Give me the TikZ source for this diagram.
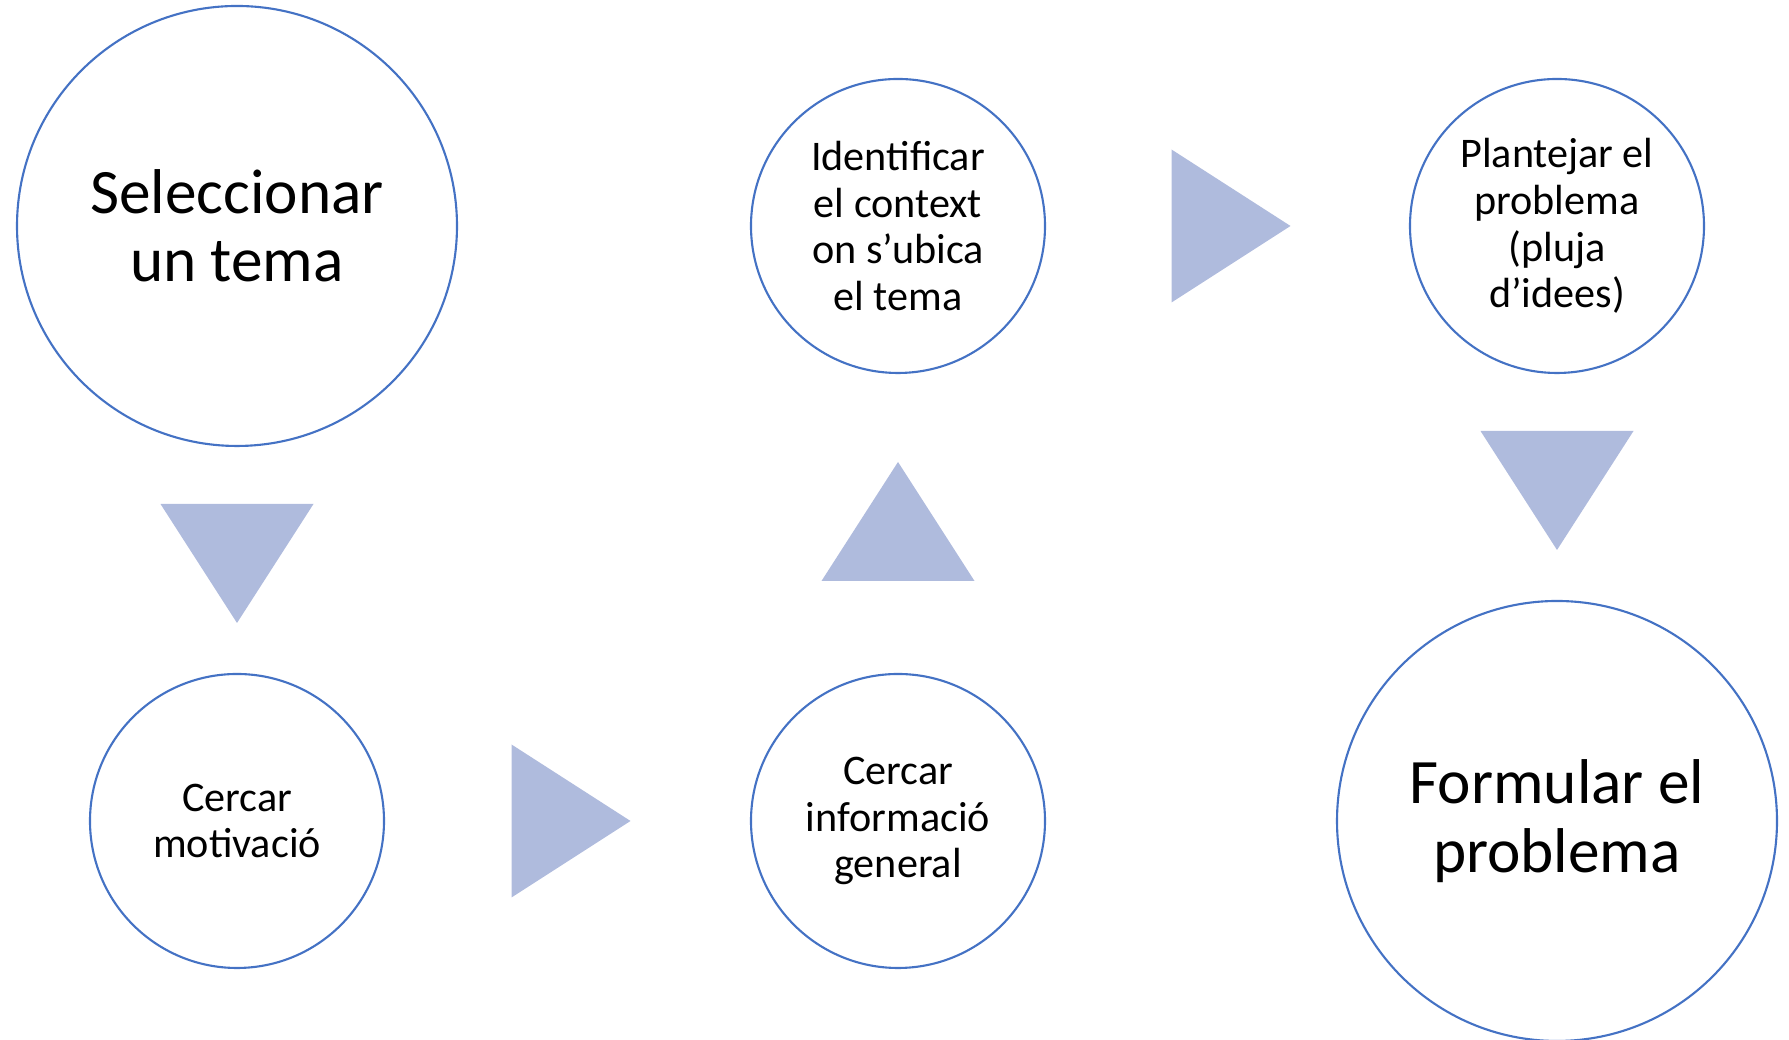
\documentclass[tikz,border=0pt]{standalone}
\usepackage{fontspec}
\setmainfont{Carlito}
\usetikzlibrary{calc}
\usetikzlibrary{positioning}

\definecolor{ringblue}{RGB}{68,114,196}
\definecolor{trifill}{RGB}{175,187,221}

\tikzset{
    bigstep/.style={circle,draw=ringblue,line width=0.6pt,minimum size=4.40cm,inner sep=0pt,outer sep=0pt,align=center,font=\fontsize{18}{19.5}\selectfont},
    smallstep/.style={circle,draw=ringblue,line width=0.6pt,minimum size=2.94cm,inner sep=0pt,outer sep=0pt,align=center,font=\fontsize{12}{13.3}\selectfont},
    flowtri/.style={fill=trifill}
}

\begin{document}
\begin{tikzpicture}

            %\draw [help lines] (0,0) grid (18,10);
            \useasboundingbox (0,0) rectangle (17.89,10.40);

            \path   (2.37,8.14)  node (sel) [bigstep] {Seleccionar\\un tema}
                    (2.37,2.19)  node (mot) [smallstep] {Cercar\\motivació}
                    (8.98,2.19)  node (inf) [smallstep] {Cercar\\informació\\general}
                    (8.98,8.14)  node (ide) [smallstep] {Identificar\\el context\\on s’ubica\\el tema}
                    (15.57,8.14) node (pla) [smallstep] {Plantejar el\\problema\\(pluja\\d’idees)}
                    (15.57,2.19) node (form) [bigstep] {Formular el\\problema};

            \fill[flowtri] ($(sel.south)!0.5!(mot.north)+(-0.765,0.56)$) -- ++(1.53,0) -- ++(-0.765,-1.19) -- cycle;
            \fill[flowtri] ($(mot.east)!0.5!(inf.west)+(-0.56,0.765)$) -- ++(0,-1.53) -- ++(1.19,0.765) -- cycle;
            \fill[flowtri] ($(inf.north)!0.5!(ide.south)+(-0.765,-0.575)$) -- ++(1.53,0) -- ++(-0.765,1.19) -- cycle;
            \fill[flowtri] ($(ide.east)!0.5!(pla.west)+(-0.56,0.765)$) -- ++(0,-1.53) -- ++(1.19,0.765) -- cycle;
            \fill[flowtri] ($(pla.south)!0.5!(form.north)+(-0.765,0.56)$) -- ++(1.53,0) -- ++(-0.765,-1.19) -- cycle;

\end{tikzpicture}
\end{document}
